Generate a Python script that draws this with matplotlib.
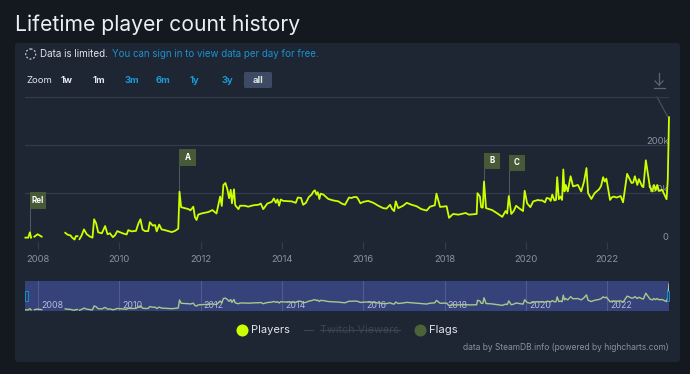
import numpy as np
import matplotlib
matplotlib.use('Agg')
import matplotlib.pyplot as plt
from matplotlib.patches import Rectangle, Circle, FancyBboxPatch

plt.rcParams['font.family'] = ['Inter', 'DejaVu Sans']

# year, players in thousands, nan where the line has a gap
years = [2007.69, 2007.76, 2007.80, 2007.83, 2007.87, 2007.91, 2007.99, 2008.09, 2008.4,
         2008.67, 2008.73, 2008.80, 2008.84, 2008.90, 2008.93, 2008.97, 2009.0,
         2009.02, 2009.07, 2009.13, 2009.20, 2009.28, 2009.34, 2009.38, 2009.43, 2009.48, 2009.57,
         2009.65, 2009.71, 2009.77, 2009.84, 2009.89, 2009.95, 2010.02, 2010.08, 2010.18, 2010.22,
         2010.30, 2010.41, 2010.47, 2010.52, 2010.57, 2010.63, 2010.71, 2010.75, 2010.82, 2010.88,
         2010.92, 2010.98, 2011.04, 2011.12, 2011.29, 2011.37, 2011.45, 2011.48, 2011.52, 2011.61,
         2011.70, 2011.75, 2011.82, 2011.86, 2011.90, 2011.94, 2012.02, 2012.19, 2012.29, 2012.39,
         2012.48, 2012.52, 2012.56, 2012.61, 2012.66, 2012.70, 2012.74, 2012.77, 2012.82, 2012.85,
         2012.87, 2012.93, 2012.97, 2013.09, 2013.17, 2013.30, 2013.42, 2013.48, 2013.54, 2013.64,
         2013.75, 2013.80, 2013.85, 2013.89, 2013.93, 2013.97, 2014.03, 2014.24, 2014.34, 2014.39,
         2014.47, 2014.52, 2014.59, 2014.66, 2014.73, 2014.77, 2014.81, 2014.85, 2014.88, 2014.92,
         2014.95, 2015.02, 2015.14, 2015.26, 2015.39, 2015.47, 2015.55, 2015.65, 2015.71, 2015.77,
         2015.84, 2015.88, 2015.93, 2016.00, 2016.12, 2016.25, 2016.37, 2016.49, 2016.57, 2016.66,
         2016.71, 2016.76, 2016.80, 2016.86, 2016.98, 2017.07, 2017.19, 2017.31, 2017.43, 2017.56,
         2017.64, 2017.76, 2017.80, 2017.89, 2018.05, 2018.11, 2018.21, 2018.34, 2018.52, 2018.60,
         2018.79, 2018.81, 2018.87, 2018.90, 2018.94, 2018.97, 2019.02, 2019.17, 2019.30, 2019.42,
         2019.50, 2019.54, 2019.58, 2019.64, 2019.70, 2019.76, 2019.83, 2019.93, 2019.97, 2020.03,
         2020.11, 2020.18, 2020.30, 2020.34, 2020.40, 2020.47, 2020.51, 2020.57, 2020.61, 2020.65,
         2020.70, 2020.74, 2020.77, 2020.81, 2020.85, 2020.89, 2020.92, 2020.95, 2020.98, 2021.03,
         2021.10, 2021.16, 2021.28, 2021.36, 2021.43, 2021.49, 2021.53, 2021.61, 2021.69, 2021.80,
         2021.85, 2021.90, 2021.94, 2021.98, 2022.07, 2022.11, 2022.16, 2022.23, 2022.33, 2022.39,
         2022.49, 2022.60, 2022.64, 2022.68, 2022.74, 2022.78, 2022.86, 2022.89, 2022.95, 2023.05,
         2023.11, 2023.15, 2023.19, 2023.23, 2023.27, 2023.35, 2023.46, 2023.49, 2023.52]
players = [8, 8, 19, 8, np.nan, 10, 15, 10, np.nan,
           18, 14, 12.5, 8, 4, 11, 11, np.nan,
           5, 12, 25, 15, 10, 8, 46, 37.5, 19, 17,
           32, 15, 17, 9, 12.5, 21.5, 19, 17, 14.5, 23.5,
           21, 22, 37.5, 46, 25, 21.5, 21.5, 40, 33, 34,
           21, 35, 25, 23.5, 19.5, 22, 26.5, 103, 71, 69,
           67, 64.5, 72, 50, 44.5, 55.5, 58, 61, 65, 58,
           93, 73.5, 117, 121, 107, 89.5, 107, 79, 108, 75.5,
           73, 67, 74, 74, 72, 75, 76, 78.5, 67, 78.5,
           82, 89, 80, 87, 74, 87, 84, 83, 80, 91,
           90, 76, 80, 92, 97, 103, 106, 97, 102, 88,
           99, 97, 88, 85, 83, 78.5, 76, 91, 90, 92,
           92, 87, 79, 82, 84, 80, 74, 69, 68, 76,
           67, 63, 83, 69, 74, 80, 76, 73, 67, 64,
           72, 75, 99, 71.5, 73, 49, 57, 55.5, 59, 55.5,
           57, 100, 93, 71, 70, 124, 69, 65, 58, 51,
           63, 58, 94, 57, 63, 74, 69, 63, 105, 79,
           71, 83, 86, 85, 85, 81, 90, 89, 84, 97,
           85, 86, 133, 87.5, 93, 86, 149, 103.5, 117, 103.5,
           135, 114, 117, 103.5, 124, 152, 100, 88, 100, 108,
           115, 133, 124, 130, 86, 91, 93, 91, 94, 81,
           140, 121, 122, 135, 117, 129, 114, 112.5, 168, 112.5,
           103.5, 117, 105.5, 117, 105, 107, 87.5, 128, 257]

year_ticks = [2008, 2010, 2012, 2014, 2016, 2018, 2020, 2022]
count_ticks = [0, 100, 200, 300]
count_labels = ['0', '100k', '200k']

flag_names = ['Rel', 'A', 'B', 'C']
flag_years = [2007.80, 2011.47, 2018.97, 2019.58]
flag_hits = [8, 103, 124, 94]
flag_lows = [68, 156, 150, 145]
flag_highs = [102, 190.6, 184, 180]

zoom_names = ['1w', '1m', '3m', '6m', '1y', '3y']
zoom_x = [67, 99, 131.5, 163, 194.5, 227]
zoom_cols = ['#e4e6ea', '#e4e6ea', '#1b9ad6', '#1b9ad6', '#1b9ad6', '#1b9ad6']

LIME = '#ccff00'
FLAG = '#465a38'
GRID = '#323c4c'
GREY = '#8b929d'
WHITE = '#e2e5ea'
BLUE = '#1b93cf'

fig = plt.figure(figsize=(6.9, 3.74), dpi=100, facecolor='#14181f')

# page stuff in pixel coordinates
bg = fig.add_axes([0, 0, 1, 1], zorder=0)
bg.set_xlim(0, 690)
bg.set_ylim(374, 0)
bg.axis('off')
bg.add_patch(FancyBboxPatch((15, 43), 665, 319, boxstyle='round,pad=0,rounding_size=3',
                            fc='#1e2533', ec='none'))

bg.text(15, 24.5, 'Lifetime player count history', color='#eceef0', fontsize=15.2, va='center')
bg.add_patch(Circle((30.7, 54), 5, fill=False, ec='#c8ccd2', lw=0.9, ls=(0, (1.5, 1.5))))
bg.text(40, 54, 'Data is limited.', color=WHITE, fontsize=7.1, va='center')
bg.text(112, 54, 'You can sign in to view data per day for free.', color=BLUE, fontsize=7.0, va='center')

bg.text(26, 80, 'Zoom', color=WHITE, fontsize=6.8, va='center')
for name, x, col in zip(zoom_names, zoom_x, zoom_cols):
    bg.text(x, 80, name, color=col, fontsize=6.8, weight='bold', ha='center', va='center')
bg.add_patch(FancyBboxPatch((244, 72), 28, 16, boxstyle='round,pad=0,rounding_size=1.5',
                            fc='#3c4a63', ec='none'))
bg.text(258, 80, 'all', color=WHITE, fontsize=6.8, weight='bold', ha='center', va='center')

# download icon
bg.plot([659, 659], [73, 85], color='#5a6472', lw=0.9)
bg.plot([655, 659, 663], [81, 85, 81], color='#5a6472', lw=0.9)
bg.plot([653.5, 664.5], [87.5, 87.5], color='#5a6472', lw=0.9)
bg.plot([657, 667.7], [97, 116.7], color='#465060', lw=0.9)

# legend
bg.scatter([242], [329.5], s=75, color=LIME, lw=0)
bg.text(251, 330, 'Players', color=WHITE, fontsize=8.0, va='center')
bg.plot([304, 313], [330, 330], color='#3b4452', lw=0.8)
bg.text(320, 330, 'Twitch Viewers', color='#3b4452', fontsize=7.8, va='center')
bg.plot([320, 400], [330, 330], color='#3b4452', lw=0.8)
bg.scatter([420], [329.5], s=75, color='#4c6238', lw=0)
bg.text(429, 330, 'Flags', color=WHITE, fontsize=8.2, va='center')
bg.text(669, 347, 'data by SteamDB.info (powered by highcharts.com)', color=GREY, fontsize=6.1,
        ha='right', va='center')

# main chart
ax = fig.add_axes([25 / 690, 1 - 241.5 / 374, 644 / 690, 145 / 374], zorder=1)
ax.patch.set_alpha(0)
ax.set_xlim(2007.68, 2023.52)
ax.set_ylim(0, 300)
for s in ax.spines.values():
    s.set_visible(False)
ax.set_yticks(count_ticks)
ax.set_yticklabels([])
ax.grid(axis='y', color=GRID, lw=0.9, zorder=0)
ax.tick_params(axis='y', length=0)
ax.set_xticks(year_ticks)
ax.set_xticklabels(year_ticks)
ax.tick_params(axis='x', color=GRID, length=5, width=0.9, labelsize=6.8, labelcolor=GREY, pad=5)
for tick, label in zip(count_ticks, count_labels):
    ax.text(0.9995, tick + 7.5, label, transform=ax.get_yaxis_transform(), color=GREY,
            fontsize=6.8, ha='right', va='center', zorder=1)
ax.plot(years, players, color=LIME, lw=1.3, zorder=3, clip_on=False)

for name, yr, hit, low, high in zip(flag_names, flag_years, flag_hits, flag_lows, flag_highs):
    ax.plot([yr, yr], [hit, low], color='#505b68', lw=0.7, zorder=2)
    ax.add_patch(Rectangle((yr, low), 0.405, high - low, fc=FLAG, ec='none', zorder=4))
    ax.text(yr + 0.2025, (low + high) / 2, name, color='white', fontsize=5.8, weight='bold',
            ha='center', va='center', zorder=5)

# navigator
nav = fig.add_axes([25 / 690, 1 - 310.7 / 374, 644 / 690, 29.7 / 374], zorder=1)
nav.set_facecolor('#36427a')
nav.set_xlim(2007.68, 2023.52)
nav.set_ylim(0, 285)
for s in nav.spines.values():
    s.set_visible(False)
nav.set_yticks([])
nav.set_xticks([])
for yr in year_ticks:
    nav.axvline(yr, color='#4f5b92', lw=0.8, zorder=1)
    nav.annotate(str(yr), (yr, 0), xytext=(2.2, 0.8), textcoords='offset points',
                 color='#b4bad6', fontsize=6.4, va='bottom', ha='left', zorder=2)
nav.plot(years, players, color='#a9c98c', lw=1.0, zorder=3)
for x0 in [25, 666.5]:
    nav.add_patch(Rectangle((x0, 291), 2.5, 10, transform=bg.transData, fc='#2b3a6e',
                            ec='#1a8fc0', lw=0.7, clip_on=False, zorder=4))

fig.savefig('out.png', dpi=100, facecolor=fig.get_facecolor())
